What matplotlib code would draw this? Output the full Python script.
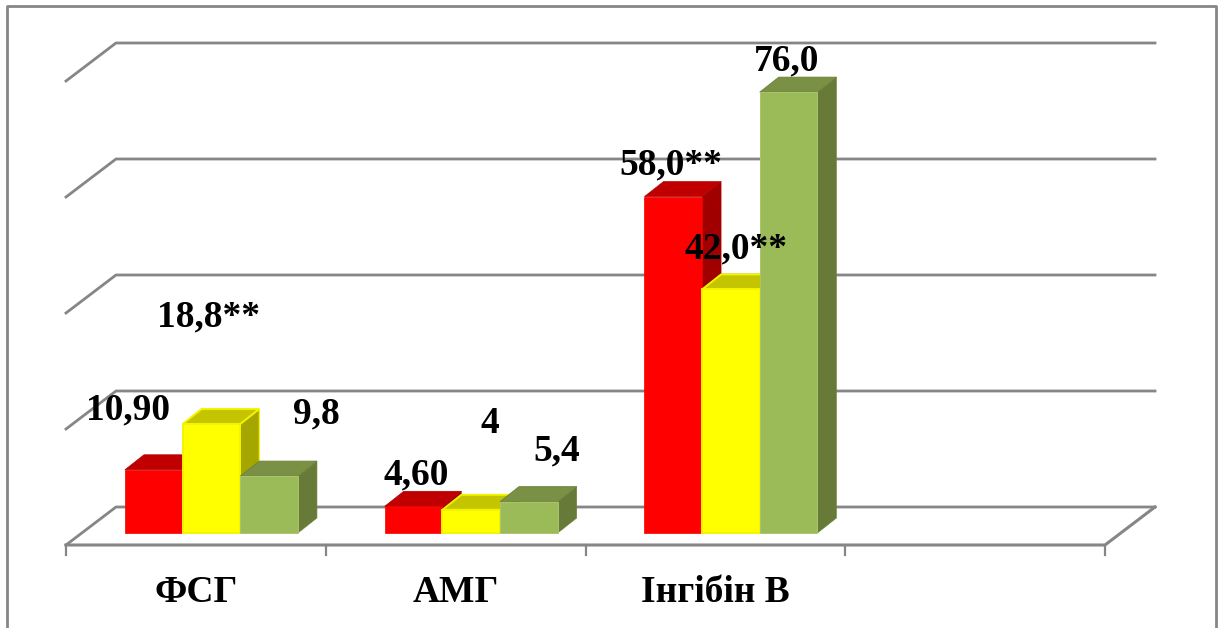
import matplotlib.pyplot as plt
from matplotlib.patches import Polygon

categories = ['ФСГ', 'АМГ', 'Інгібін В']
red_values = [10.9, 4.6, 58.0]
yellow_values = [18.8, 4.0, 42.0]
green_values = [9.8, 5.4, 76.0]
red_labels = ['10,90', '4,60', '58,0**']
yellow_labels = ['18,8**', '4', '42,0**']
green_labels = ['9,8', '5,4', '76,0']
grid_values = [0, 20, 40, 60, 80]

# label shift from the top centre of each bar, in pixels
red_shift = [(-26, 50), (3, 22), (-2, 22)]
yellow_shift = [(-3, 97), (19, 77), (5, 31)]
green_shift = [(47, 53), (28, 41), (-2, 22)]

W, H = 1221, 628
PX_X = 259.75   # pixels per category
PX_Y = 5.8      # pixels per value unit
BAR_W = 0.222
GROUP_SHIFT = 0.56
FONT_SIZE = 27

# depth of a bar and of the floor, in data units
BAR_DX, BAR_DY = 19 / PX_X, 15 / PX_Y
BACK_DY = 26 / PX_Y
FRONT_DY = -12 / PX_Y
WALL_DX = 50 / PX_X
GRID_END = 1089 / PX_X

GREY = '#868686'

fig = plt.figure(figsize=(W / 100, H / 100), dpi=100)
ax = fig.add_axes([0, 0, 1, 1])
ax.set_xlim(-66 / PX_X, (W - 66) / PX_X)
ax.set_ylim(-(H - 533) / PX_Y, 533 / PX_Y)
ax.axis('off')

# chart border, the bottom edge is cut off
to_y = lambda px: (533 - px) / PX_Y
to_x = lambda px: (px - 66) / PX_X
ax.plot([to_x(7), to_x(7), to_x(1216), to_x(1216)],
        [to_y(H), to_y(6), to_y(6), to_y(H)], color=GREY, lw=2.0, zorder=1)

# back wall lines with their diagonal on the left
for v in grid_values:
    ax.plot([0, WALL_DX, GRID_END], [v + FRONT_DY, v + BACK_DY, v + BACK_DY],
            color=GREY, lw=2.0, zorder=1, solid_joinstyle='miter')

# floor
ax.plot([GRID_END, GRID_END - WALL_DX, 0], [BACK_DY, FRONT_DY, FRONT_DY],
        color=GREY, lw=2.2, zorder=1, solid_joinstyle='miter')
for i in range(5):
    ax.plot([i, i], [FRONT_DY, FRONT_DY - 10 / PX_Y], color=GREY, lw=1.6, zorder=1)

for i, name in enumerate(categories):
    ax.text(i + 0.5, FRONT_DY - 57 / PX_Y, name, ha='center', va='baseline',
            family='Liberation Serif', weight='bold', fontsize=FONT_SIZE, zorder=9)


def draw_series(values, labels, shifts, offset, front, top, side, edge, side_edge, edge_w, z):
    for i, v in enumerate(values):
        x0 = i + GROUP_SHIFT + offset - BAR_W / 2
        x1 = x0 + BAR_W
        top_pts = [(x0, v), (x1, v), (x1 + BAR_DX, v + BAR_DY), (x0 + BAR_DX, v + BAR_DY)]
        side_pts = [(x1, 0), (x1 + BAR_DX, BAR_DY), (x1 + BAR_DX, v + BAR_DY), (x1, v)]
        ax.add_patch(Polygon(side_pts, facecolor=side, edgecolor=side_edge, lw=edge_w * 0.6, zorder=z))
        ax.add_patch(Polygon(top_pts, facecolor=top, edgecolor=side_edge, lw=edge_w, zorder=z))
        ax.bar(i + GROUP_SHIFT + offset, v, BAR_W, color=front, edgecolor=edge,
               linewidth=edge_w, zorder=z + 0.5)
        ax.annotate(labels[i], xy=(i + GROUP_SHIFT + offset, v), xytext=shifts[i],
                    textcoords='offset pixels', ha='center', va='baseline',
                    family='Liberation Serif', weight='bold', fontsize=FONT_SIZE, zorder=10)


draw_series(red_values, red_labels, red_shift, -BAR_W, '#FF0000', '#C00000', '#A00000', '#F00000', '#B00000', 0.5, 3)
draw_series(yellow_values, yellow_labels, yellow_shift, 0, '#FFFF00', '#C4C400', '#A6A600', '#F4F400', '#F4F400', 1.4, 4)
draw_series(green_values, green_labels, green_shift, BAR_W, '#9BBB59', '#7A9145', '#677A37', '#A9C46F', '#6F843C', 0.7, 5)

fig.savefig('out.png', dpi=100, facecolor='white')
